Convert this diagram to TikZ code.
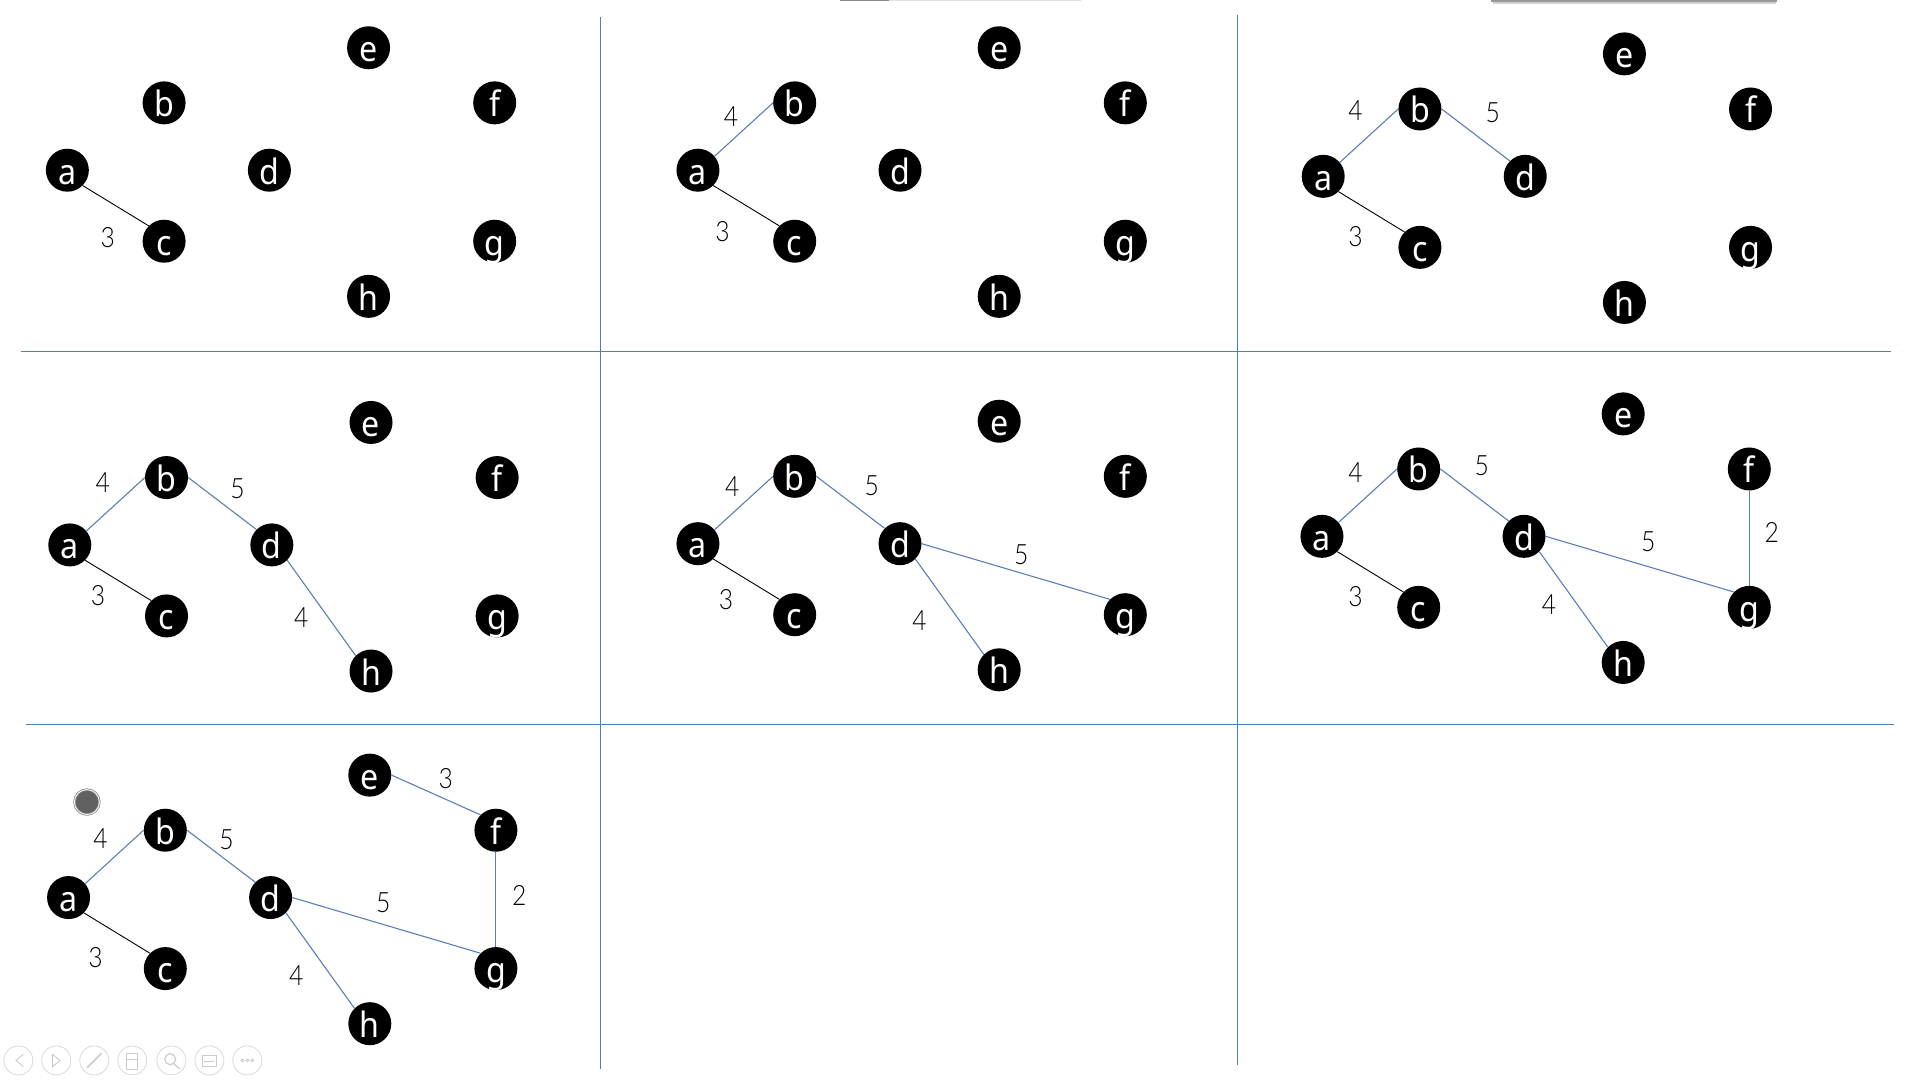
\documentclass[tikz,border=0pt]{standalone}
\usepackage{fontspec}
\setmainfont[FakeStretch=0.88]{Lato Light}
\newfontfamily\vertexfont[FakeStretch=0.92]{Noto Sans}
\definecolor{gridblue}{HTML}{4F7DB5}
\definecolor{edgeblue}{HTML}{5B7DB8}
\begin{document}
\begin{tikzpicture}[
    x=1.2245pt, y=-1.2245pt,
    vertex/.style={circle, fill=black, text=white, inner sep=0pt, minimum size=43pt, text height=28pt, text depth=0pt, font=\vertexfont\fontsize{35}{35}\selectfont},
    weight/.style={inner sep=0pt, font=\fontsize{28}{28}\selectfont},
    gridline/.style={gridblue, line width=1pt},
    mst/.style={edgeblue, line width=1.1pt},
    candidate/.style={black, line width=0.9pt},
    toolicon/.style={circle, draw=black!15, line width=0.8pt, minimum size=29pt, inner sep=0pt},
    toolmark/.style={black!20, line width=0.9pt}
]
    \useasboundingbox (0,0) rectangle (1568,882);

    % panel separators
    \coordinate (v1top) at (490,14);
    \coordinate (v1bot) at (490,873);
    \coordinate (v2top) at (1010.4,12);
    \coordinate (v2bot) at (1010.4,870);
    \coordinate (h1left) at (17,287);
    \coordinate (h1right) at (1544,287);
    \coordinate (h2left) at (21,592);
    \coordinate (h2right) at (1547,592);
    \draw[gridline] (v1top) -- (v1bot);
    \draw[gridline] (v2top) -- (v2bot);
    \draw[gridline] (h1left) -- (h1right);
    \draw[gridline] (h2left) -- (h2right);

    % leftovers of the screenshot along the top
    \fill[black!45] (686,0) rectangle (726,1.2);
    \fill[black!12] (726,0) rectangle (883,1.2);
    \fill[black!40] (1218,0) rectangle (1451,1.5);
    \fill[black!18] (1219,1.5) rectangle (1450,3);

    % the same eight vertices in every panel
    \foreach \p/\ox/\oy in {1/0/0, 2/515/0, 3/1025.6/5, 4/2/306, 5/515/305, 6/1024.6/299, 7/1/594} {
        \begin{scope}[shift={(\ox*1.2245pt,-\oy*1.2245pt)}]
            \foreach \n/\x/\y in {a/55/139, b/134/84, c/134/197, d/220/139, e/301/39, f/404/84, g/404/197, h/301/242}
                \node[vertex] (\n\p) at (\x,\y) {\n};
        \end{scope}
    }

    % edges added step by step
    \foreach \p in {1,...,7} \draw[candidate] (a\p.-45) -- (c\p.135);
    \foreach \p in {2,...,7} \draw[mst] (a\p.40) -- (b\p.west);
    \foreach \p in {3,...,7} \draw[mst] (b\p.east) -- (d\p.135);
    \foreach \p in {4,...,7} \draw[mst] (d\p.-45) -- (h\p.135);
    \foreach \p in {5,6,7} \draw[mst] (d\p.east) -- (g\p.135);
    \foreach \p in {6,7} \draw[mst] (f\p) -- (g\p);
    \draw[mst] (e7.east) -- (f7.135);

    % weights
    \foreach \t/\x/\y in {3/88/194,
        4/597/95, 3/590/189,
        4/1107/90, 5/1219/92, 3/1107/193,
        4/84/394, 5/194/399, 3/80/486, 4/246/504,
        4/598/397, 5/712/397, 3/593/490, 4/751/507, 5/834/453,
        4/1107/386, 5/1210/380, 3/1107/487, 4/1265/494, 5/1346/442, 2/1447/435,
        4/82/685, 5/185/686, 3/78/782, 4/242/797, 5/313/737, 2/424/731, 3/364/636}
        \node[weight] (w\x) at (\x,\y) {\t};

    % pointer dot
    \node[circle, fill=black!62, draw=black!45, double=white, double distance=0.8pt, line width=0.8pt, minimum size=25pt, inner sep=0pt] (pointer) at (71,655) {};

    % slide show toolbar
    \foreach \i/\x in {1/15, 2/46, 3/77, 4/108, 5/140, 6/171, 7/202}
        \node[toolicon] (tool\i) at (\x,866) {};
    \draw[toolmark] (19,861) -- (13,866) -- (19,871);
    \draw[toolmark] (43,861) -- (49,866) -- (43,871) -- cycle;
    \draw[toolmark, line width=1.6pt] (71,872) -- (83,860);
    \draw[toolmark] (103,860) rectangle (112,873);
    \draw[toolmark] (103,865) -- (112,865);
    \draw[toolmark, line width=1.2pt] (139,865) circle (4.5) (142,869) -- (147,873);
    \draw[toolmark] (165,862) rectangle (177,871);
    \draw[toolmark] (167,867) -- (175,867);
    \foreach \x in {198,202,206} \draw[toolmark] (\x,866) circle (1.2);
\end{tikzpicture}
\end{document}
